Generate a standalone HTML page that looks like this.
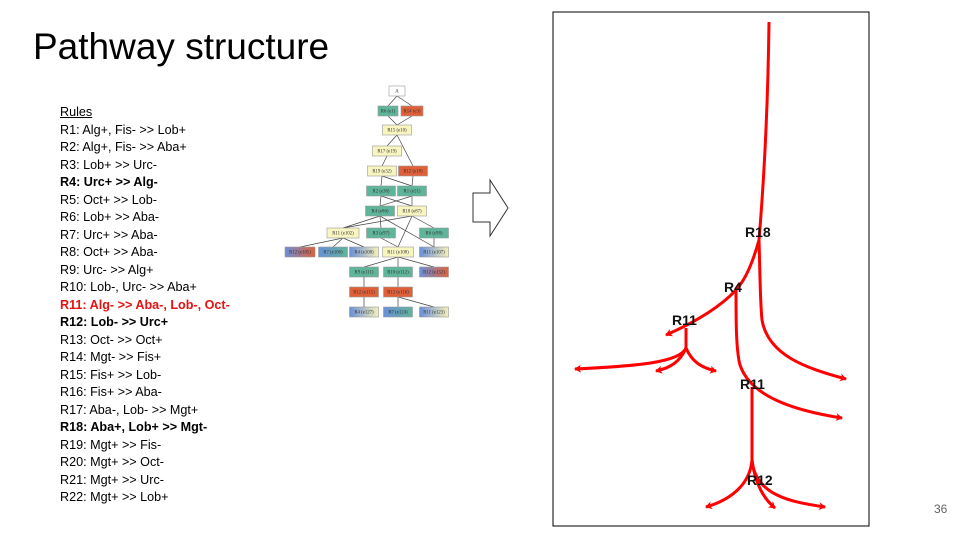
<!DOCTYPE html>
<html><head><meta charset="utf-8"><style>
body{margin:0;width:960px;height:540px;background:#fff;position:relative;overflow:hidden;font-family:"Liberation Sans",sans-serif}
#title{position:absolute;left:33px;top:26px;font-size:37px;color:#000}
#rules{position:absolute;left:60px;top:104px;font-size:12.6px;line-height:17.5px;color:#000}
#rules div{white-space:nowrap}
.b{font-weight:bold}.r{font-weight:bold;color:#e81010}
#pn{position:absolute;left:934px;top:502px;font-size:12px;color:#666}
svg{position:absolute;left:0;top:0}
</style></head><body>
<div id="title">Pathway structure</div>
<div id="rules">
<div style="text-decoration:underline">Rules</div>
<div>R1: Alg+, Fis- &gt;&gt; Lob+</div>
<div>R2: Alg+, Fis- &gt;&gt; Aba+</div>
<div>R3: Lob+ &gt;&gt; Urc-</div>
<div class="b">R4: Urc+ &gt;&gt; Alg-</div>
<div>R5: Oct+ &gt;&gt; Lob-</div>
<div>R6: Lob+ &gt;&gt; Aba-</div>
<div>R7: Urc+ &gt;&gt; Aba-</div>
<div>R8: Oct+ &gt;&gt; Aba-</div>
<div>R9: Urc- &gt;&gt; Alg+</div>
<div>R10: Lob-, Urc- &gt;&gt; Aba+</div>
<div class="r">R11: Alg- &gt;&gt; Aba-, Lob-, Oct-</div>
<div class="b">R12: Lob- &gt;&gt; Urc+</div>
<div>R13: Oct- &gt;&gt; Oct+</div>
<div>R14: Mgt- &gt;&gt; Fis+</div>
<div>R15: Fis+ &gt;&gt; Lob-</div>
<div>R16: Fis+ &gt;&gt; Aba-</div>
<div>R17: Aba-, Lob- &gt;&gt; Mgt+</div>
<div class="b">R18: Aba+, Lob+ &gt;&gt; Mgt-</div>
<div>R19: Mgt+ &gt;&gt; Fis-</div>
<div>R20: Mgt+ &gt;&gt; Oct-</div>
<div>R21: Mgt+ &gt;&gt; Urc-</div>
<div>R22: Mgt+ &gt;&gt; Lob+</div>
</div>
<div id="pn">36</div>
<svg width="960" height="540">
<defs>
<marker id="ah" markerWidth="8" markerHeight="8" refX="6" refY="4" orient="auto" markerUnits="userSpaceOnUse"><path d="M0,0 L7,4 L0,8 L2,4 Z" fill="#f00"/></marker>
<linearGradient id="gbr"><stop offset="0" stop-color="#6a8fd8"/><stop offset="1" stop-color="#e0603a"/></linearGradient>
<linearGradient id="gbg"><stop offset="0" stop-color="#6a8fd8"/><stop offset="1" stop-color="#5fb59a"/></linearGradient>
<linearGradient id="gby"><stop offset="0" stop-color="#6a8fd8"/><stop offset="1" stop-color="#f5f0b8"/></linearGradient>
</defs>
<g id="graph"></g>
<path d="M473,193 L490,193 L490,180 L508,208 L490,236 L490,222 L473,222 Z" fill="#fff" stroke="#333" stroke-width="1"/>
<rect x="553" y="12" width="316" height="514" fill="none" stroke="#000" stroke-width="1"/>
<g fill="none" stroke="#f00" stroke-width="3">
<path d="M769,22 C768,100 764,180 759,240"/>
<path d="M759,240 C752,265 745,280 736,290 C722,305 700,320 666,335" marker-end="url(#ah)"/>
<path d="M759,240 C760,270 760,300 762,320 C768,355 805,368 846,379" marker-end="url(#ah)"/>
<path d="M736,290 C736,320 736,350 740,365 C750,395 790,410 842,418" marker-end="url(#ah)"/>
<path d="M686,328 L686,348 C680,362 640,366 575,369" marker-end="url(#ah)"/>
<path d="M686,348 C680,362 670,368 656,371" marker-end="url(#ah)"/>
<path d="M686,348 C692,362 702,368 716,371" marker-end="url(#ah)"/>
<path d="M752,387 L752,460 C750,485 730,500 706,507" marker-end="url(#ah)"/>
<path d="M752,460 C755,485 765,500 775,508" marker-end="url(#ah)"/>
<path d="M752,460 C755,495 790,502 825,507" marker-end="url(#ah)"/>
</g>
<g font-family="Liberation Sans" font-weight="bold" font-size="14" fill="#111">
<text x="745" y="237">R18</text>
<text x="724" y="292">R4</text>
<text x="672" y="325">R11</text>
<text x="740" y="389">R11</text>
<text x="747" y="485">R12</text>
</g>
</svg>
<script>
const nodes=[
["A",397,91,"#fff",16],["R6 (e1)",388,111,"#5fb59a",20],["R14 (e3)",412,111,"#e0603a",22],
["R15 (e10)",397,130,"#f8f5c0"],["R17 (e19)",387,151,"#f8f5c0"],["R19 (e32)",382,171,"#f8f5c0"],["R12 (e18)",413,171,"#e0603a"],
["R2 (e38)",381,191,"#5fb59a"],["R1 (e51)",412,191,"#5fb59a"],["R4 (e86)",380,211,"#5fb59a"],["R18 (e87)",412,211,"#f8f5c0"],
["R11 (e102)",343,233,"#f8f5c0",32],["R3 (e97)",381,233,"#5fb59a"],["R6 (e98)",434,233,"#5fb59a"],
["R12 (e105)",300,252,"url(#gbr)",30],["R7 (e106)",333,252,"url(#gbg)"],["R4 (e108)",364,252,"url(#gby)"],["R11 (e108)",398,252,"#f8f5c0",31],["R11 (e107)",434,252,"url(#gby)"],
["R9 (e111)",364,272,"#5fb59a"],["R10 (e112)",398,272,"#5fb59a"],["R12 (e152)",434,272,"url(#gbr)"],
["R12 (e115)",364,292,"#e0603a"],["R12 (e116)",398,292,"#e0603a"],
["R4 (e127)",364,312,"url(#gby)"],["R7 (e124)",398,312,"url(#gbg)"],["R11 (e123)",434,312,"url(#gby)"]];
const edges=[[0,1],[0,2],[1,3],[2,3],[3,4],[3,6],[4,5],[5,7],[5,8],[6,8],[7,9],[7,10],[8,9],[8,10],[9,11],[9,12],[9,18],[10,11],[10,13],[10,17],[11,14],[11,15],[11,16],[12,17],[13,18],[17,19],[17,20],[17,21],[19,22],[20,23],[22,24],[23,25],[23,26]];
const g=document.getElementById('graph');const NS='http://www.w3.org/2000/svg';
edges.forEach(e=>{const a=nodes[e[0]],b=nodes[e[1]];const l=document.createElementNS(NS,'line');
l.setAttribute('x1',a[1]);l.setAttribute('y1',a[2]+5);l.setAttribute('x2',b[1]);l.setAttribute('y2',b[2]-5);
l.setAttribute('stroke','#444');l.setAttribute('stroke-width','0.7');


g.appendChild(l);});
nodes.forEach(n=>{const w=n[4]||29;const r=document.createElementNS(NS,'rect');
r.setAttribute('x',n[1]-w/2);r.setAttribute('y',n[2]-5);r.setAttribute('width',w);r.setAttribute('height',10);
r.setAttribute('fill',n[3]);r.setAttribute('stroke','#999');r.setAttribute('stroke-width','0.6');


g.appendChild(r);
const t=document.createElementNS(NS,'text');t.setAttribute('x',n[1]);t.setAttribute('y',n[2]+1.7);
t.setAttribute('font-size','4.8');t.setAttribute('text-anchor','middle');t.setAttribute('font-family','Liberation Serif');t.setAttribute('fill','#333');
t.textContent=n[0];


g.appendChild(t);});
</script>
</body></html>
